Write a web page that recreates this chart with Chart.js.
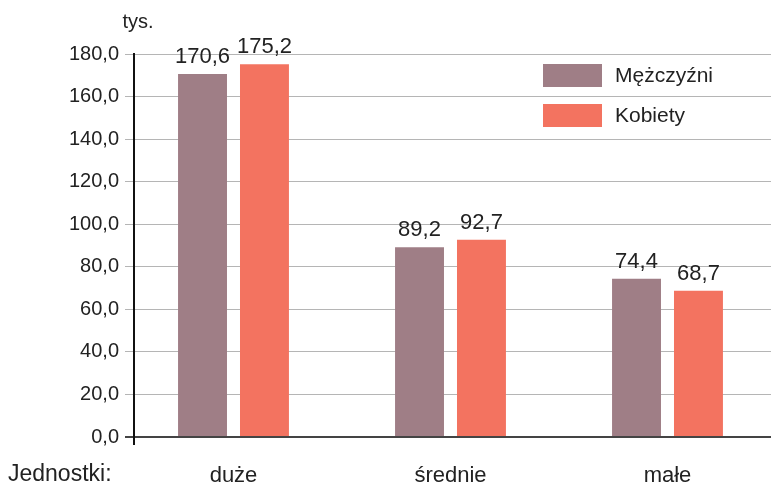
<!DOCTYPE html>
<html>
<head>
<meta charset="utf-8">
<script src="https://cdn.jsdelivr.net/npm/chart.js@4"></script>
<style>
  html, body { margin: 0; padding: 0; background: #fff; }
  #wrap { width: 771px; height: 487px; }
</style>
</head>
<body>
<div id="wrap"><canvas id="barChart" width="771" height="487"></canvas></div>
<script>
const categories = ["duże", "średnie", "małe"];
const men = [170.6, 89.2, 74.4];
const women = [175.2, 92.7, 68.7];
const seriesNames = ["Mężczyźni", "Kobiety"];
const yTicks = [0, 20, 40, 60, 80, 100, 120, 140, 160, 180];

const FONT = "'Liberation Sans', Arial, sans-serif";
const colors = ["#9f7e86", "#f37360"];

function fmt(v) {
  return v.toFixed(1).replace(".", ",");
}

// labels over bars, legend and extra texts
const extras = {
  id: "extras",
  afterDatasetsDraw(chart) {
    const ctx = chart.ctx;
    const area = chart.chartArea;
    ctx.save();

    // y axis runs a little past the baseline
    ctx.strokeStyle = "#111";
    ctx.lineWidth = 2;
    ctx.beginPath();
    ctx.moveTo(area.left, area.bottom);
    ctx.lineTo(area.left, area.bottom + 8);
    ctx.stroke();

    ctx.fillStyle = "#222";
    ctx.textAlign = "center";
    ctx.textBaseline = "bottom";
    ctx.font = "22px " + FONT;
    chart.data.datasets.forEach((ds, i) => {
      chart.getDatasetMeta(i).data.forEach((bar, j) => {
        ctx.fillText(fmt(ds.data[j].y), bar.x, bar.y - 6);
      });
    });

    // legend
    ctx.textAlign = "left";
    ctx.textBaseline = "middle";
    ctx.font = "21px " + FONT;
    chart.data.datasets.forEach((ds, i) => {
      const y = 64 + i * 40;
      ctx.fillStyle = ds.backgroundColor;
      ctx.fillRect(543, y, 59, 23);
      ctx.fillStyle = "#222";
      ctx.fillText(ds.label, 615, y + 12);
    });

    ctx.font = "20px " + FONT;
    ctx.textAlign = "center";
    ctx.fillText("tys.", 138, 22);
    ctx.font = "23px " + FONT;
    ctx.textAlign = "left";
    ctx.fillText("Jednostki:", 8, 475);
    ctx.restore();
  }
};

const ctx = document.getElementById("barChart").getContext("2d");

new Chart(ctx, {
  type: "bar",
  data: {
    datasets: [
      {
        label: seriesNames[0],
        data: men.map((v, i) => ({ x: i, y: v })),
        backgroundColor: colors[0],
      },
      {
        label: seriesNames[1],
        data: women.map((v, i) => ({ x: i, y: v })),
        backgroundColor: colors[1],
      },
    ],
  },
  options: {
    responsive: false,
    animation: false,
    categoryPercentage: 0.571,
    barPercentage: 0.79,
    layout: { padding: { top: 54, right: 0, left: 0, bottom: 0 } },
    plugins: {
      legend: { display: false },
      tooltip: { enabled: false },
    },
    scales: {
      x: {
        type: "linear",
        offset: false,
        min: -0.4585,
        max: 2.477,
        afterBuildTicks: (axis) => {
          axis.ticks = categories.map((c, i) => ({ value: i }));
        },
        afterFit: (scale) => { scale.height = 50; },
        grid: { display: false, drawTicks: false },
        border: { display: false },
        ticks: {
          callback: (v) => categories[v],
          color: "#222",
          font: { family: FONT, size: 22 },
          padding: 26,
          maxRotation: 0,
        },
      },
      y: {
        min: 0,
        max: 180,
        afterBuildTicks: (axis) => {
          axis.ticks = yTicks.map((v) => ({ value: v }));
        },
        afterFit: (scale) => { scale.width = 134; },
        grid: {
          color: (c) => (c.tick && c.tick.value === 0 ? "#444" : "#b5b5b5"),
          lineWidth: (c) => (c.tick && c.tick.value === 0 ? 2 : 1),
          tickLength: 9,
        },
        border: { display: true, color: "#111", width: 2 },
        ticks: {
          callback: (v) => fmt(v),
          color: "#222",
          font: { family: FONT, size: 20 },
          padding: 6,
        },
      },
    },
  },
  plugins: [extras],
});
</script>
</body>
</html>
